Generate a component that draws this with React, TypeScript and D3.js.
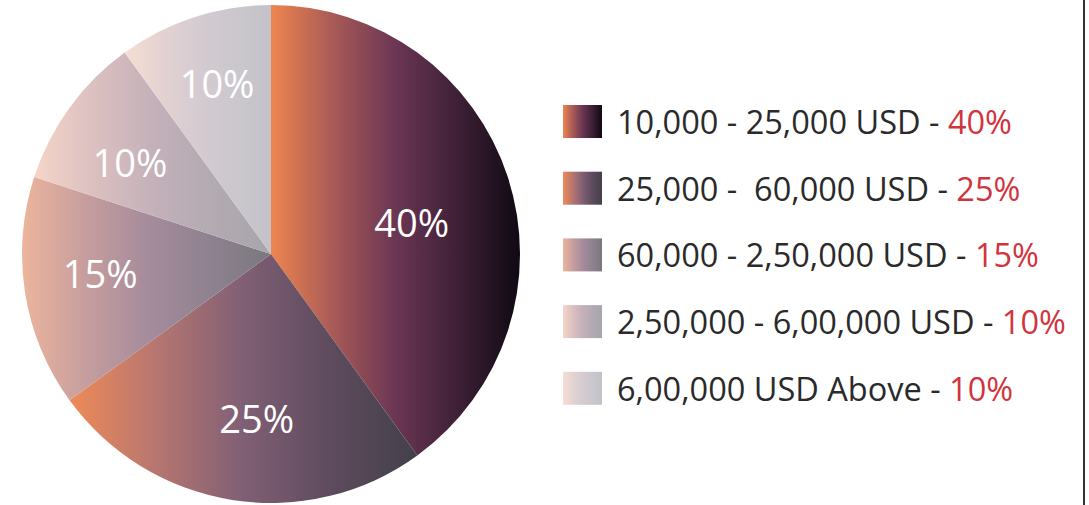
import React from "react";
import * as d3 from "d3";

const categories = [
  "10,000 - 25,000 USD",
  "25,000 -  60,000 USD",
  "60,000 - 2,50,000 USD",
  "2,50,000 - 6,00,000 USD",
  "6,00,000 USD Above",
];
const values = [40, 25, 15, 10, 10];
const valueLabels = ["40%", "25%", "15%", "10%", "10%"];

// gradient stops per slice (left -> right)
const gradients: string[][] = [
  ["#ee8550", "#a85a57", "#6a3654", "#3e2036", "#100913"],
  ["#ef8a58", "#b67670", "#805f75", "#5e4b5d", "#43404a"],
  ["#ecb59d", "#c79e9e", "#a68c9c", "#8f8290", "#7a777e"],
  ["#f4d5c8", "#dcc0c0", "#c4b1ba", "#b3aab2", "#a7a5ab"],
  ["#f6ded3", "#e4d2d2", "#d5cbd1", "#cbc7cd", "#c2c2c8"],
];
// label placement: radius fraction and angular shift (degrees) from slice middle
const labelRadiusFrac = [0.58, 0.66, 0.69, 0.675, 0.72];
const labelAngleShift = [5, -4, 2.6, -3, 0.5];

const W = 1089;
const H = 505;
const cx = 271;
const cy = 254;
const R = 249;

export default function App() {
  const pie = d3
    .pie<number>()
    .sort(null)
    .value((d) => d)
    .startAngle(0)
    .endAngle(2 * Math.PI);
  const arcs = pie(values);
  const arc = d3.arc<d3.PieArcDatum<number>>().innerRadius(0).outerRadius(R);

  const legendX = 563;
  const legendY0 = 105;
  const legendStep = 66.7;
  const font = "'Open Sans', 'Noto Sans', sans-serif";

  return (
    <svg
      width={W}
      height={H}
      style={{ position: "absolute", left: 0, top: 0, background: "#fff" }}
    >
      <defs>
        {gradients.map((stops, i) => (
          <linearGradient key={i} id={`g${i}`} x1="0" y1="0" x2="1" y2="0">
            {stops.map((c, j) => (
              <stop key={j} offset={j / (stops.length - 1)} stopColor={c} />
            ))}
          </linearGradient>
        ))}
      </defs>
      <g transform={`translate(${cx},${cy})`}>
        {arcs.map((a, i) => (
          <path key={i} d={arc(a) || ""} fill={`url(#g${i})`} />
        ))}
        {arcs.map((a, i) => {
          const lr = R * labelRadiusFrac[i];
          const ang = (a.startAngle + a.endAngle) / 2 + (labelAngleShift[i] * Math.PI) / 180;
          const x = lr * Math.sin(ang);
          const y = -lr * Math.cos(ang);
          return (
            <text
              key={i}
              x={x}
              y={y}
              textAnchor="middle"
              dominantBaseline="central"
              fill="#fff"
              fontFamily={font}
              fontSize={38}
            >
              {valueLabels[i]}
            </text>
          );
        })}
      </g>
      <g>
        {categories.map((c, i) => {
          const y = legendY0 + i * legendStep;
          return (
            <g key={i}>
              <rect x={legendX} y={y} width={39} height={33} fill={`url(#g${i})`} />
              <text
                x={617}
                y={y + 29}
                fontFamily={font}
                fontSize={32.5}
                fill="#2a2a2a"
                style={{ whiteSpace: "pre" }}
              >
                {c + " - "}
                <tspan fill="#d0353e">{valueLabels[i]}</tspan>
              </text>
            </g>
          );
        })}
      </g>
      <line x1={1084} y1={0} x2={1084} y2={H} stroke="#333" strokeWidth={2} />
    </svg>
  );
}
